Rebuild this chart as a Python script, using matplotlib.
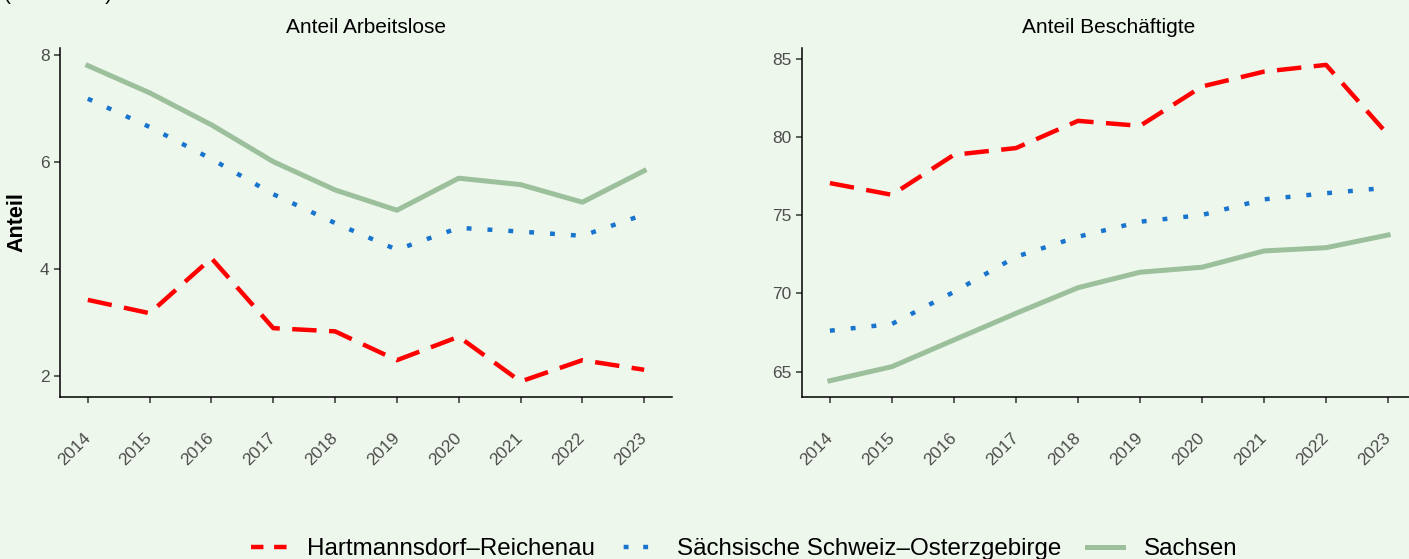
import matplotlib.pyplot as plt
import numpy as np
from matplotlib.lines import Line2D

plt.rcParams['font.family'] = ['Liberation Sans', 'DejaVu Sans']

# data
jahre = [2014, 2015, 2016, 2017, 2018, 2019, 2020, 2021, 2022, 2023]
regionen = ['Hartmannsdorf\u2013Reichenau', 'Sächsische Schweiz\u2013Osterzgebirge', 'Sachsen']

arbeitslose_hr = [3.42, 3.17, 4.20, 2.89, 2.83, 2.29, 2.73, 1.89, 2.29, 2.11]
arbeitslose_sso = [7.19, 6.66, 6.06, 5.40, 4.86, 4.36, 4.77, 4.70, 4.62, 5.02]
arbeitslose_sn = [7.81, 7.30, 6.70, 6.01, 5.48, 5.10, 5.70, 5.58, 5.25, 5.84]

beschaeftigte_hr = [77.06, 76.31, 78.87, 79.30, 81.04, 80.72, 83.24, 84.19, 84.62, 80.15]
beschaeftigte_sso = [67.62, 68.05, 70.10, 72.35, 73.63, 74.59, 75.02, 76.02, 76.41, 76.77]
beschaeftigte_sn = [64.42, 65.32, 67.03, 68.73, 70.37, 71.36, 71.68, 72.72, 72.93, 73.74]

bg = '#EEF7EC'
farben = ['#FF0000', '#1874CD', '#9CBF9C']
stile = [dict(linestyle=(0, (5.5, 2.8)), lw=3.2, dash_capstyle='butt'),
         dict(linestyle=(0, (1.1, 3.6)), lw=3.2, dash_capstyle='butt'),
         dict(linestyle='-', lw=3.6)]
# shorter patterns for the legend keys
legend_stile = [dict(linestyle=(0, (2.8, 2.4)), lw=3.2, dash_capstyle='butt'),
                dict(linestyle=(-0.6, (1.1, 3.3)), lw=3.2, dash_capstyle='butt'),
                dict(linestyle='-', lw=3.6)]

W, H = 1409, 559
fig = plt.figure(figsize=(W/100, H/100), dpi=100, facecolor=bg)

def px(x0, y0, x1, y1):
    return [x0/W, 1-y1/H, (x1-x0)/W, (y1-y0)/H]

ax1 = fig.add_axes(px(60, 48, 672, 397))
ax2 = fig.add_axes(px(802, 48, 1416, 397))

panels = [
    (ax1, [arbeitslose_hr, arbeitslose_sso, arbeitslose_sn], 'Anteil Arbeitslose', (1.60, 8.14), [2, 4, 6, 8]),
    (ax2, [beschaeftigte_hr, beschaeftigte_sso, beschaeftigte_sn], 'Anteil Beschäftigte', (63.38, 85.7), [65, 70, 75, 80, 85]),
]

for ax, serien, titel, ylim, yt in panels:
    ax.set_facecolor(bg)
    for werte, f, s in zip(serien, farben, stile):
        ax.plot(jahre, werte, color=f, **s)
    ax.set_xlim(2013.55, 2023.45)
    ax.set_ylim(*ylim)
    ax.set_yticks(yt)
    ax.set_xticks(jahre)
    ax.set_xticklabels([str(j) for j in jahre], rotation=45, ha='right', va='center',
                       rotation_mode='anchor')
    ax.tick_params(colors='#333333', labelcolor='#4D4D4D', labelsize=12.5, length=4.5, width=1.1)
    ax.tick_params(axis='x', pad=23)
    ax.tick_params(axis='y', pad=3)
    for sp in ['top', 'right']:
        ax.spines[sp].set_visible(False)
    for sp in ['left', 'bottom']:
        ax.spines[sp].set_linewidth(1.1)
    ax.set_title(titel, fontsize=15, pad=11)

ax1.set_ylabel('Anteil', fontsize=15.5, fontweight='bold', labelpad=9)

# header mostly cut off at the top edge, as in the reference
fig.text(0.003, 1.0, '(in Prozent)', fontsize=15, va='baseline', ha='left')

handles = [Line2D([], [], color=f, **s) for f, s in zip(farben, legend_stile)]
fig.legend(handles, regionen, loc='center', bbox_to_anchor=(0.528, 1 - 549/H), ncol=3,
           frameon=False, fontsize=17.4, handlelength=1.5, columnspacing=1.05, handletextpad=0.85)

plt.savefig('out.png', dpi=100, facecolor=bg)
